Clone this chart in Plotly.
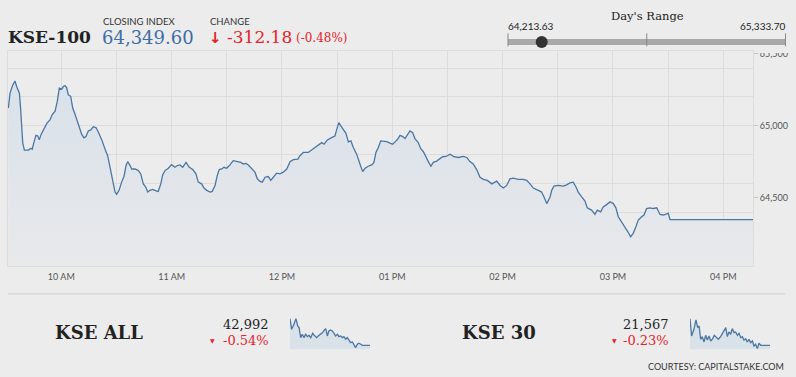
import plotly.graph_objects as go

W, H = 796, 377
BG = "#ececec"
GRID = "#dcdcdc"
LINE = "#4a77a3"
RED = "#e3242b"
BLUE = "#3d6ea5"
DARK = "#222222"

DATE = "2023-10-02"
INDEX_NAME = "KSE-100"
CLOSE = 64349.60
CHANGE = -312.18
CHANGE_PCT = -0.48
DAY_LOW = 64213.63
DAY_HIGH = 65333.70
Y_TICKS = [64500, 65000, 65500]
Y_RANGE = [64026, 65515]
X_RANGE = ["09:31:00", "16:16:10"]

TIMES = [
    "09:31:12", "09:32:06", "09:33:36", "09:34:48", "09:35:42", "09:36:36", "09:37:12", "09:37:54",
    "09:39:00", "09:39:54", "09:42:06", "09:43:24", "09:44:12", "09:45:18", "09:46:12", "09:47:12",
    "09:48:00", "09:49:00", "09:50:48", "09:52:06", "09:53:54", "09:55:06", "09:56:36", "09:57:48",
    "09:58:54", "10:00:12", "10:01:06", "10:02:00", "10:02:54", "10:03:48", "10:05:06", "10:06:12",
    "10:07:30", "10:09:12", "10:11:06", "10:12:18", "10:13:24", "10:14:42", "10:16:00", "10:17:24",
    "10:18:54", "10:20:06", "10:22:00", "10:23:48", "10:25:12", "10:26:30", "10:28:00", "10:29:12",
    "10:30:06", "10:31:24", "10:32:48", "10:34:06", "10:35:12", "10:36:06", "10:37:24", "10:38:18",
    "10:40:06", "10:41:54", "10:43:12", "10:44:36", "10:45:54", "10:47:00", "10:48:12", "10:49:42",
    "10:51:30", "10:52:42", "10:54:06", "10:55:06", "10:56:24", "10:58:12", "11:00:00", "11:01:48",
    "11:03:06", "11:04:30", "11:06:00", "11:07:48", "11:09:36", "11:11:30", "11:13:12", "11:14:30",
    "11:16:18", "11:17:36", "11:19:06", "11:20:54", "11:22:06", "11:23:36", "11:24:48", "11:25:54",
    "11:27:12", "11:28:30", "11:29:54", "11:31:24", "11:33:30", "11:35:42", "11:37:36", "11:39:00",
    "11:40:24", "11:41:42", "11:43:30", "11:45:18", "11:46:36", "11:48:06", "11:49:18", "11:50:48",
    "11:52:36", "11:53:54", "11:55:18", "11:57:06", "11:58:54", "12:00:42", "12:02:36", "12:04:24",
    "12:06:12", "12:08:36", "12:09:48", "12:11:36", "12:14:18", "12:16:12", "12:18:00", "12:19:48",
    "12:21:36", "12:22:54", "12:24:42", "12:27:00", "12:28:48", "12:29:48", "12:30:54", "12:32:06",
    "12:33:24", "12:34:48", "12:36:06", "12:37:30", "12:38:48", "12:40:36", "12:42:24", "12:43:54",
    "12:45:12", "12:46:54", "12:48:48", "12:50:00", "12:51:06", "12:52:24", "12:53:42", "12:55:06",
    "12:57:00", "12:58:42", "13:00:12", "13:01:30", "13:02:54", "13:04:12", "13:05:42", "13:06:54",
    "13:08:12", "13:09:36", "13:11:06", "13:12:18", "13:14:06", "13:15:24", "13:16:54", "13:18:18",
    "13:19:36", "13:21:00", "13:22:18", "13:24:06", "13:25:54", "13:27:24", "13:29:12", "13:31:24",
    "13:33:30", "13:35:54", "13:38:36", "13:40:30", "13:42:12", "13:44:00", "13:45:54", "13:47:42",
    "13:49:30", "13:51:42", "13:54:06", "13:56:48", "13:58:36", "14:00:24", "14:02:12", "14:04:00",
    "14:05:48", "14:08:30", "14:11:12", "14:13:06", "14:14:54", "14:16:42", "14:19:24", "14:21:12",
    "14:22:30", "14:24:00", "14:25:48", "14:26:42", "14:27:54", "14:30:18", "14:33:00", "14:34:48",
    "14:36:36", "14:38:24", "14:39:54", "14:41:06", "14:43:00", "14:44:48", "14:46:00", "14:48:24",
    "14:50:12", "14:51:30", "14:53:18", "14:54:42", "14:56:36", "14:58:24", "15:00:12", "15:01:36",
    "15:02:54", "15:04:42", "15:06:30", "15:08:18", "15:09:36", "15:11:00", "15:12:30", "15:13:48",
    "15:15:36", "15:16:54", "15:18:18", "15:20:06", "15:21:54", "15:23:48", "15:25:36", "15:27:24",
    "15:30:06", "15:31:00", "16:16:10",
]
KSE100 = [
    65123, 65226, 65283, 65310, 65272, 65238, 65226, 65111,
    64883, 64831, 64831, 64844, 64837, 64895, 64933, 64929,
    64902, 64940, 64979, 65016, 65043, 65078, 65101, 65169,
    65261, 65254, 65272, 65279, 65265, 65215, 65204, 65123,
    65078, 65009, 64940, 64916, 64925, 64964, 64971, 64993,
    64986, 64957, 64902, 64837, 64792, 64712, 64609, 64540,
    64525, 64552, 64609, 64650, 64724, 64751, 64724, 64700,
    64700, 64689, 64666, 64597, 64575, 64540, 64552, 64559,
    64549, 64545, 64597, 64659, 64689, 64705, 64730, 64712,
    64724, 64728, 64712, 64746, 64712, 64696, 64666, 64609,
    64597, 64568, 64552, 64540, 64545, 64586, 64655, 64696,
    64700, 64712, 64705, 64724, 64758, 64751, 64746, 64735,
    64739, 64728, 64705, 64678, 64632, 64614, 64609, 64643,
    64648, 64621, 64643, 64671, 64666, 64678, 64700, 64751,
    64765, 64769, 64792, 64815, 64815, 64833, 64849, 64872,
    64883, 64872, 64902, 64918, 64929, 64975, 65021, 64998,
    64975, 64947, 64888, 64895, 64849, 64803, 64735, 64682,
    64705, 64719, 64728, 64746, 64815, 64849, 64895, 64895,
    64890, 64879, 64872, 64888, 64906, 64933, 64925, 64911,
    64940, 64964, 64952, 64911, 64883, 64842, 64820, 64780,
    64751, 64719, 64746, 64755, 64769, 64785, 64787, 64803,
    64785, 64780, 64787, 64780, 64751, 64735, 64696, 64643,
    64628, 64621, 64597, 64616, 64586, 64568, 64586, 64632,
    64636, 64628, 64628, 64621, 64597, 64568, 64552, 64540,
    64506, 64460, 64506, 64552, 64582, 64586, 64582, 64590,
    64604, 64609, 64575, 64540, 64506, 64477, 64431, 64415,
    64385, 64415, 64403, 64437, 64453, 64472, 64460, 64431,
    64369, 64335, 64300, 64261, 64230, 64254, 64300, 64346,
    64369, 64381, 64426, 64431, 64426, 64431, 64385, 64381,
    64392, 64349.6, 64349.6,
]

SPARK_TIMES = [
    "09:31", "09:39", "09:51", "10:01", "10:10", "10:17", "10:25", "10:33", "10:42", "10:50",
    "10:59", "11:07", "11:16", "11:26", "11:34", "11:46", "11:54", "12:06", "12:16", "12:25",
    "12:32", "12:40", "12:48", "12:57", "13:05", "13:14", "13:22", "13:31", "13:39", "13:48",
    "13:56", "14:04", "14:13", "14:21", "14:30", "14:38", "14:47", "14:55", "15:03", "15:12",
    "15:20", "15:29", "15:37", "16:16",
]
KSE_ALL = [
    43312, 43184, 43244, 43312, 43224, 43204, 43084, 43124, 43084, 43124,
    43096, 43112, 43084, 43136, 43112, 43084, 43104, 43124, 43144, 43176,
    43192, 43104, 43164, 43176, 43164, 43136, 43104, 43124, 43096, 43104,
    43084, 43096, 43064, 43084, 43056, 43024, 43032, 43004, 42964, 43004,
    43016, 43004, 42992, 42992,
]
KSE_30 = [
    21727, 21623, 21663, 21719, 21673, 21683, 21603, 21619, 21587, 21627,
    21599, 21623, 21593, 21607, 21627, 21611, 21603, 21619, 21643, 21663,
    21673, 21619, 21647, 21633, 21667, 21643, 21647, 21627, 21639, 21613,
    21619, 21599, 21607, 21587, 21603, 21583, 21593, 21563, 21573, 21547,
    21579, 21567, 21567, 21567,
]
OTHER_NAMES = ["KSE ALL", "KSE 30"]
OTHER_CLOSE = [42992, 21567]
OTHER_PCT = [-0.54, -0.23]
OTHER_SERIES = [KSE_ALL, KSE_30]
SPARK_RANGES = [[42944, 43324], [21543, 21733]]
COURTESY = "COURTESY: CAPITALSTAKE.COM"


def px(x):
    return x / W


def py(y):
    return 1 - y / H


def ts(t):
    return f"{DATE} {t}"


fig = go.Figure()

# main intraday line
fig.add_trace(go.Scatter(
    x=[ts(t) for t in TIMES], y=KSE100, mode="lines",
    line=dict(color=LINE, width=1.3),
    fill="tozeroy",
    fillgradient=dict(type="vertical", start=Y_RANGE[0], stop=65300,
                      colorscale=[[0, "#e8e9eb"], [1, "#d9e1ea"]]),
    hoverinfo="skip", showlegend=False, xaxis="x", yaxis="y"))
# label axis carrier
fig.add_trace(go.Scatter(x=[], y=[], xaxis="x", yaxis="y2", showlegend=False))

# sparklines
for i, (series, rng) in enumerate(zip(OTHER_SERIES, SPARK_RANGES)):
    n = 3 + i
    fig.add_trace(go.Scatter(
        x=[ts(t) for t in SPARK_TIMES], y=series, mode="lines",
        line=dict(color=LINE, width=1.3), fill="tozeroy", fillcolor="#d9e1e9",
        hoverinfo="skip", showlegend=False, xaxis=f"x{n}", yaxis=f"y{n}"))

# day's range slider
fig.add_trace(go.Scatter(x=[DAY_LOW, DAY_HIGH], y=[0, 0], mode="lines",
                         line=dict(color="#a9a9a9", width=6), hoverinfo="skip",
                         showlegend=False, xaxis="x5", yaxis="y5"))
fig.add_trace(go.Scatter(x=[CLOSE], y=[0], mode="markers",
                         marker=dict(size=12, color="#333333"), hoverinfo="skip",
                         showlegend=False, xaxis="x5", yaxis="y5", cliponaxis=False))

unit = (DAY_HIGH - DAY_LOW) / (785.5 - 508)
slider_range = [DAY_LOW - 2 * unit, DAY_HIGH + 2.5 * unit]

tickfont = dict(family="Lato", size=9, color="#555555")
fig.update_layout(
    width=W, height=H, margin=dict(l=0, r=0, t=0, b=0),
    paper_bgcolor=BG, plot_bgcolor=BG, showlegend=False,
    xaxis=dict(domain=[px(8), px(753)], anchor="y", type="date",
               range=[ts(X_RANGE[0]), ts(X_RANGE[1])],
               dtick=3600000, tick0=ts("00:00"), tickformat="%I %p",
               showgrid=True, gridcolor=GRID, gridwidth=1,
               minor=dict(dtick=1800000, tick0=ts("00:00"), showgrid=True,
                          gridcolor=GRID, gridwidth=1),
               showline=True, linecolor=GRID, mirror=True, ticks="",
               ticklabelstandoff=2,
               tickfont=tickfont, zeroline=False),
    yaxis=dict(domain=[py(265), py(48)], anchor="x", range=Y_RANGE,
               dtick=200, tick0=0, showgrid=True, gridcolor=GRID,
               showticklabels=False, showline=True, linecolor=GRID,
               mirror=True, zeroline=False, ticks=""),
    yaxis2=dict(overlaying="y", anchor="x", side="right", range=Y_RANGE,
                tickvals=Y_TICKS, tickformat=",", showgrid=False, zeroline=False,
                ticks="outside", ticklen=4, tickcolor="#c4c4c4",
                tickfont=tickfont, showline=False),
    xaxis3=dict(domain=[px(290), px(370)], anchor="y3", visible=False, type="date",
                range=[ts(SPARK_TIMES[0]), ts(SPARK_TIMES[-1])]),
    yaxis3=dict(domain=[py(349), py(317)], anchor="x3", visible=False,
                range=SPARK_RANGES[0]),
    xaxis4=dict(domain=[px(690), px(770)], anchor="y4", visible=False, type="date",
                range=[ts(SPARK_TIMES[0]), ts(SPARK_TIMES[-1])]),
    yaxis4=dict(domain=[py(349), py(317)], anchor="x4", visible=False,
                range=SPARK_RANGES[1]),
    xaxis5=dict(domain=[px(506), px(788)], anchor="y5", visible=False,
                range=slider_range),
    yaxis5=dict(domain=[py(47.5), py(29.5)], anchor="x5", visible=False, range=[-1, 1]),
)

shapes = [
    # clip top of the upper y label
    dict(type="rect", xref="paper", yref="paper", x0=px(757.5), x1=1,
         y0=py(49.4), y1=py(43.0), fillcolor=BG, line=dict(width=0), layer="above"),
    # separator
    dict(type="line", xref="paper", yref="paper", x0=px(8), x1=px(785),
         y0=py(293), y1=py(293), line=dict(color="#cccccc", width=1), layer="above"),
]
for v in [DAY_LOW, (DAY_LOW + DAY_HIGH) / 2, DAY_HIGH]:
    shapes.append(dict(type="line", xref="x5", yref="y5", x0=v, x1=v,
                       y0=-0.48, y1=1.0, line=dict(color="#888888", width=1)))
fig.update_layout(shapes=shapes)

SERIF = "DejaVu Serif"
SANS = "Lato"


def ann(text, x, y, size, color=DARK, family=SERIF, xanchor="left"):
    return dict(text=text, x=px(x), y=py(y), xref="paper", yref="paper",
                xanchor=xanchor, yanchor="middle", showarrow=False,
                font=dict(family=family, size=size, color=color))


arrow = "↓" if CHANGE < 0 else "↑"
annotations = [
    ann(f"<b>{INDEX_NAME}</b>", 6, 33.5, 17),
    ann("CLOSING INDEX", 101, 18, 9.5, "#333333", SANS),
    ann(f"{CLOSE:,.2f}", 100, 33.5, 18, BLUE),
    ann("CHANGE", 208, 18, 9.5, "#333333", SANS),
    ann(f"<b>{arrow}</b>", 207, 34, 15, RED, "DejaVu Sans"),
    ann(f"{CHANGE:.2f}", 225, 33.5, 17, RED),
    ann(f"({CHANGE_PCT:.2f}%)", 294, 34.5, 12, RED),
    ann("Day's Range", 647, 12.5, 11.5, DARK, SERIF, "center"),
    ann(f"{DAY_LOW:,.2f}", 506, 22, 10, DARK, SANS),
    ann(f"{DAY_HIGH:,.2f}", 787, 22, 10, DARK, SANS, "right"),
    ann(COURTESY, 786, 366, 9, "#333333", SANS, "right"),
]
name_x = [53, 460]
num_right = [271, 671]
tri_x = [212.5, 614]
for i in range(2):
    annotations += [
        ann(f"<b>{OTHER_NAMES[i]}</b>", name_x[i], 332, 18),
        ann(f"{OTHER_CLOSE[i]:,}", num_right[i], 323.5, 13, DARK, SERIF, "right"),
        ann(f"{OTHER_PCT[i]:.2f}%", num_right[i], 340.5, 13, RED, SERIF, "right"),
        ann("▼", tri_x[i], 340.5, 6, RED, "DejaVu Sans", "center"),
    ]
fig.update_layout(annotations=annotations)

fig.write_html(
    "out.html",
    config={"displayModeBar": False},
    post_script="document.body.style.margin='0';document.body.style.overflow='hidden';",
)
